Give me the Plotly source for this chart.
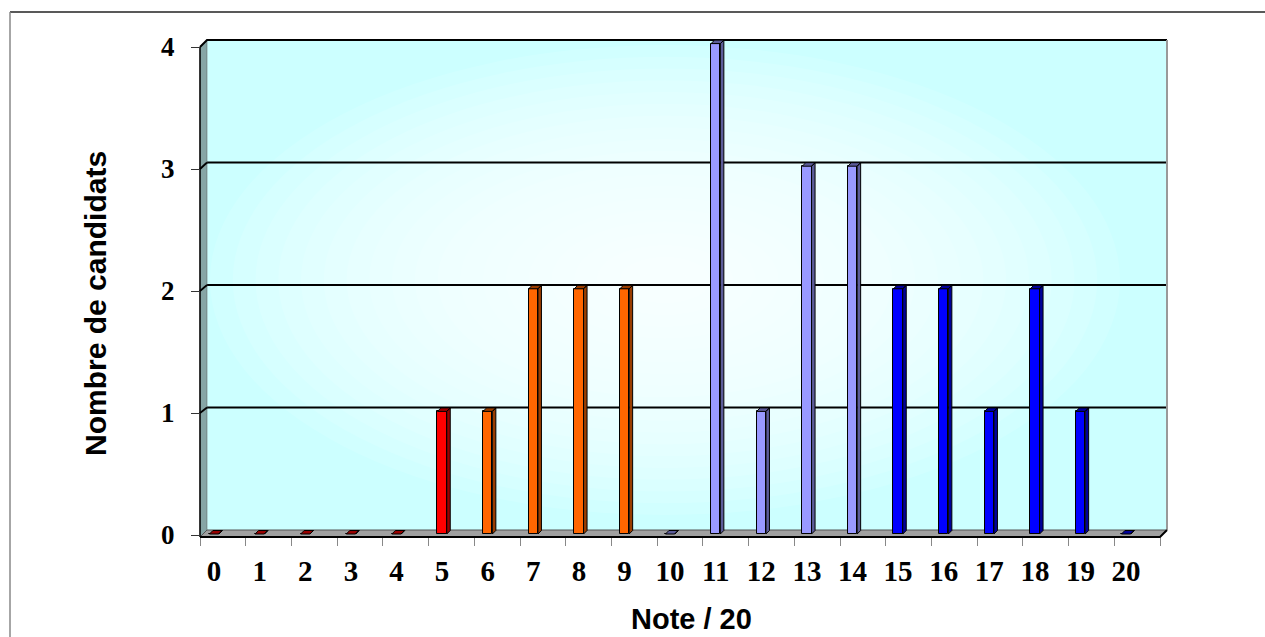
import plotly.graph_objects as go

# ---------------- data ----------------
notes = list(range(21))
counts = [0, 0, 0, 0, 0, 1, 1, 2, 2, 2, 0, 4, 1, 3, 3, 2, 2, 1, 2, 1, 0]
x_tick_labels = [str(n) for n in notes]
y_ticks = [0, 1, 2, 3, 4]
y_tick_labels = [str(v) for v in y_ticks]
groups = ["rouge"] * 6 + ["orange"] * 4 + ["mauve"] * 5 + ["bleu"] * 6
x_title = "Note / 20"
y_title = "Nombre de candidats"

# ---------------- style ----------------
front_col = {"rouge": "#FF0000", "orange": "#FF6600", "mauve": "#9999FF", "bleu": "#0000FF"}
dark_col = {"rouge": "#990000", "orange": "#993D00", "mauve": "#5C5C99", "bleu": "#000099"}

W, H = 1265, 637
X0, SX = 214.1, 45.6      # pixel of note 0, pixels per note (bars)
Y0, SY = 534.0, 122.6     # pixel of value 0, pixels per unit (bars)
FL, FR, FB, FT = 200, 1160, 537, 47   # front frame
PT = 34                   # top of plotting area (room for bar tops)
D = 7                     # depth offset
BL, BR, BB, BT = FL + D, FR + D, FB - D, 40  # back wall
FY0, FSY = 535.0, 122.0   # front axis ticks
BSY = (BB - BT) / 4.0     # back wall grid spacing

def px(x):
    return x / W

def py(y):
    return 1 - y / H

bar_w = 9.3 / SX
ddx = 3.5 / SX
ddy = 3.5 / SY

fig = go.Figure()

# front faces
fig.add_trace(go.Bar(
    x=notes, y=counts, width=bar_w,
    marker=dict(color=[front_col[g] for g in groups], line=dict(color="black", width=1)),
    hoverinfo="skip", showlegend=False, xaxis="x", yaxis="y", cliponaxis=False,
))

# top + side faces
for g in ["rouge", "orange", "mauve", "bleu"]:
    xs, ys = [], []
    for n, c, gg in zip(notes, counts, groups):
        if gg != g:
            continue
        fl, fr = n - bar_w / 2, n + bar_w / 2
        pts = [(fr, 0), (fr + ddx, ddy), (fr + ddx, c + ddy), (fl + ddx, c + ddy),
               (fl, c), (fr, c), (fr + ddx, c + ddy), (fr, c), (fr, 0)]
        for a, b in pts:
            xs.append(a)
            ys.append(b)
        xs.append(None)
        ys.append(None)
    fig.add_trace(go.Scatter(
        x=xs, y=ys, mode="lines", fill="toself", fillcolor=dark_col[g],
        line=dict(color="black", width=1), hoverinfo="skip", showlegend=False,
        xaxis="x", yaxis="y", cliponaxis=False,
    ))

# invisible trace for the overlay axes
fig.add_trace(go.Scatter(x=notes, y=counts, mode="none", hoverinfo="skip",
                         showlegend=False, xaxis="x2", yaxis="y2"))

# ---------------- decorations (shapes) ----------------
shapes = []
# outer frame
shapes.append(dict(type="line", xref="paper", yref="paper", x0=px(10), x1=px(1300), y0=py(12), y1=py(12),
                   line=dict(color="#222222", width=1.5), layer="below"))
shapes.append(dict(type="line", xref="paper", yref="paper", x0=px(10), x1=px(10), y0=py(12), y1=py(700),
                   line=dict(color="#888888", width=1.5), layer="below"))
# back wall
shapes.append(dict(type="rect", xref="paper", yref="paper", x0=px(BL), x1=px(BR), y0=py(BB), y1=py(BT),
                   fillcolor="#CCFFFF", line=dict(width=0), layer="below"))
# radial lightening
cx, cy, rx, ry = 665, 280, 455, 235
N = 20
for k in range(N):
    f = 1 - k / N
    shapes.append(dict(type="circle", xref="paper", yref="paper",
                       x0=px(cx - rx * f), x1=px(cx + rx * f), y0=py(cy + ry * f), y1=py(cy - ry * f),
                       fillcolor="white", opacity=0.11, line=dict(width=0), layer="below"))
# grid lines (back wall + left wall)
for v in y_ticks[1:4]:
    yf = FY0 - FSY * v
    yb = BB - BSY * v
    shapes.append(dict(type="path", xref="paper", yref="paper",
                       path=f"M{px(FL)},{py(yf)} L{px(BL)},{py(yb)} L{px(BR)},{py(yb)}",
                       line=dict(color="black", width=1.8), layer="below"))
# left wall
shapes.append(dict(type="path", xref="paper", yref="paper",
                   path=f"M{px(FL)},{py(FB)} L{px(FL)},{py(FT)} L{px(BL)},{py(BT)} L{px(BL)},{py(BB)} Z",
                   fillcolor="#86A6A6", line=dict(color="#555555", width=0.5), layer="below"))
# gridline pieces over left wall
for v in y_ticks[1:4]:
    yf = FY0 - FSY * v
    yb = BB - BSY * v
    shapes.append(dict(type="line", xref="paper", yref="paper", x0=px(FL), y0=py(yf), x1=px(BL), y1=py(yb),
                       line=dict(color="black", width=1.8), layer="below"))
# floor
shapes.append(dict(type="path", xref="paper", yref="paper",
                   path=f"M{px(FL)},{py(FB)} L{px(BL)},{py(BB)} L{px(BR)},{py(BB)} L{px(FR)},{py(FB)} Z",
                   fillcolor="#A0A0A0", line=dict(color="#555555", width=1), layer="below"))
# top edge
shapes.append(dict(type="path", xref="paper", yref="paper",
                   path=f"M{px(FL)},{py(FT)} L{px(BL)},{py(BT)} L{px(BR)},{py(BT)}",
                   line=dict(color="black", width=2), layer="below"))
# right edge of back wall
shapes.append(dict(type="line", xref="paper", yref="paper", x0=px(BR), x1=px(BR), y0=py(BB), y1=py(BT),
                   line=dict(color="#999999", width=2), layer="below"))
# front axis lines
shapes.append(dict(type="line", xref="paper", yref="paper", x0=px(FL), x1=px(FL), y0=py(FB), y1=py(FT),
                   line=dict(color="black", width=1.5), layer="below"))
shapes.append(dict(type="path", xref="paper", yref="paper",
                   path=f"M{px(FL)},{py(FB)} L{px(FR)},{py(FB)} L{px(BR)},{py(BB)}",
                   line=dict(color="black", width=2), layer="below"))

x_range = [(FL - X0) / SX, (FR - X0) / SX]
y_range = [(Y0 - FB) / SY, (Y0 - PT) / SY]
y2_range = [(FY0 - FB) / FSY, (FY0 - PT) / FSY]
tick_bounds = [(FL + k * (FR - FL) / len(notes) - X0) / SX for k in range(len(notes) + 1)]

serif = dict(family="Liberation Serif, Times New Roman, serif", color="black", weight="bold")
sans = dict(family="Liberation Sans, Arial, sans-serif", color="black", weight="bold")

fig.update_layout(
    width=W, height=H, autosize=False,
    margin=dict(l=0, r=0, t=0, b=0, pad=0, autoexpand=False),
    paper_bgcolor="white", plot_bgcolor="rgba(0,0,0,0)",
    bargap=0, barmode="overlay",
    shapes=shapes,
    xaxis=dict(domain=[px(FL), px(FR)], range=x_range, tickmode="array", tickvals=notes,
               ticktext=x_tick_labels, ticks="", showgrid=False, zeroline=False, showline=False,
               tickfont=dict(size=29, **serif), ticklabelstandoff=14, fixedrange=True, anchor="y",
               automargin=False),
    yaxis=dict(domain=[py(FB), py(PT)], range=y_range, showticklabels=False, ticks="",
               showgrid=False, zeroline=False, showline=False, fixedrange=True, anchor="x",
               automargin=False),
    xaxis2=dict(overlaying="x", range=x_range, tickmode="array", tickvals=tick_bounds,
                showticklabels=False, ticks="outside", ticklen=8, tickcolor="#888888", tickwidth=1,
                showgrid=False, zeroline=False, showline=False, anchor="y2", side="bottom",
                fixedrange=True, automargin=False),
    yaxis2=dict(overlaying="y", range=y2_range, tickmode="array", tickvals=y_ticks,
                ticktext=y_tick_labels, ticks="outside", ticklen=8, tickcolor="#333333", tickwidth=1,
                showgrid=False, zeroline=False, showline=False, anchor="x2", side="left",
                tickfont=dict(size=27, **serif), ticklabelstandoff=11, fixedrange=True,
                automargin=False),
    annotations=[
        dict(text=x_title, xref="paper", yref="paper", x=px(692), y=py(619), xanchor="center",
             yanchor="middle", showarrow=False, font=dict(size=29, **sans)),
        dict(text=y_title, xref="paper", yref="paper", x=px(95), y=py(304), xanchor="center",
             yanchor="middle", showarrow=False, textangle=-90, font=dict(size=30, **sans)),
    ],
)

fig.write_html("out.html", config={"displayModeBar": False, "responsive": False},
               post_script="document.body.style.margin='0';document.body.style.overflow='hidden';")
